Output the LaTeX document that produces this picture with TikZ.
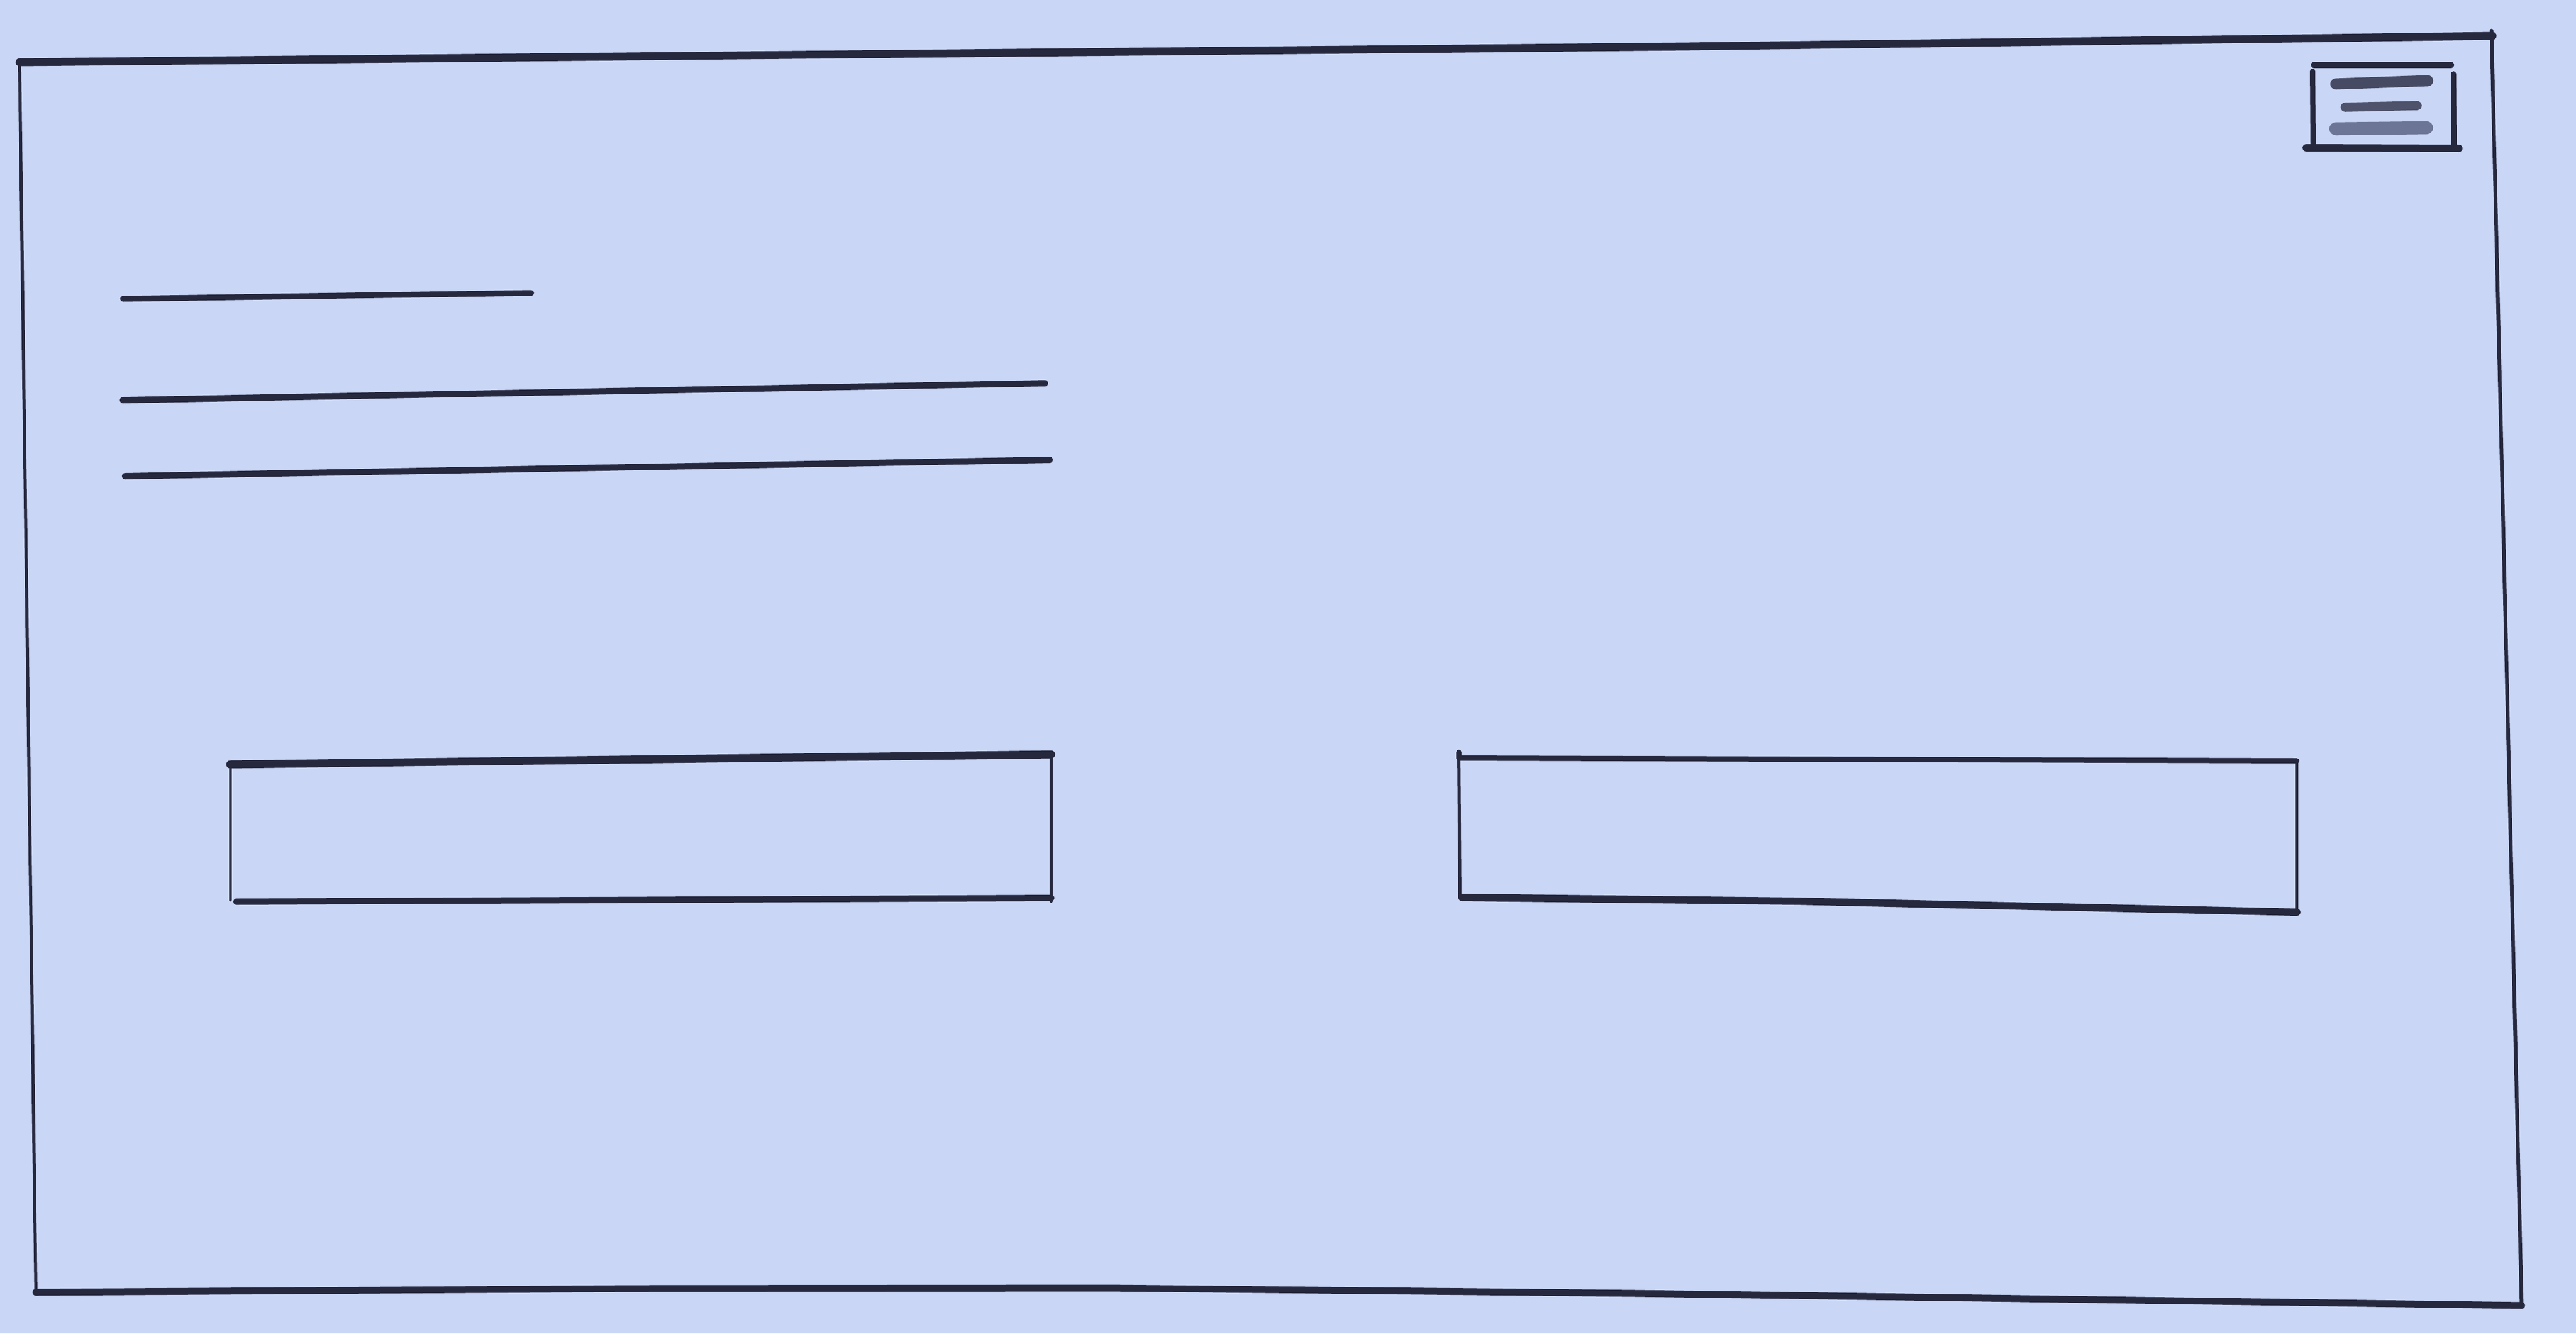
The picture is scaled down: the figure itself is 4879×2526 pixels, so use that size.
\documentclass[tikz,border=0pt]{standalone}
\begin{document}
\begin{tikzpicture}[x=0.1mm,y=-0.1mm,line cap=round,line join=round,
  pencil/.style={draw=pencilc,line width=#1*0.2845pt},
  pencil/.default=8]
\definecolor{paper}{RGB}{201,214,245}
\definecolor{pencilc}{RGB}{38,40,62}
\definecolor{pencilsoft}{RGB}{70,76,110}
\fill[paper] (0,0) rectangle (4879,2526);
\useasboundingbox (0,0) rectangle (4879,2526);
% outer frame
\coordinate (tl) at (37,118);
\coordinate (tr) at (4721,68);
\coordinate (br) at (4776,2473);
\coordinate (bl) at (68,2448);
\draw[pencil=15] (tl) -- (1500,104) -- (3200,88) -- (tr);
\draw[pencil=7] (4719,58) -- (br);
\draw[pencil=13] (bl) -- (1200,2441) -- (2100,2440) -- (3100,2450) -- (br);
\draw[pencil=6] (tl) -- (bl);
% stamp
\draw[pencil=12] (4383,123) -- (4642,123);
\draw[pencil=10] (4380,135) -- (4381,277);
\draw[pencil=10] (4647,140) -- (4648,278);
\draw[pencil=14] (4368,280) -- (4657,281);
\draw[draw=pencilc,line width=6pt,opacity=0.8] (4424,159) -- (4598,153);
\draw[draw=pencilc,line width=5pt,opacity=0.75] (4442,203) -- (4578,200);
\draw[draw=pencilsoft,line width=7pt,opacity=0.7] (4424,244) -- (4596,242);
% address lines
\draw[pencil=11] (233,566) -- (1006,555);
\draw[pencil=12] (233,758) -- (1979,726);
\draw[pencil=12] (237,902) -- (1988,871);
% left box
\draw[pencil=15] (436,1448) -- (1991,1429);
\draw[pencil=5] (436,1448) -- (436,1705);
\draw[pencil=6] (1991,1429) -- (1991,1707);
\draw[pencil=12] (448,1708) -- (1991,1701);
% right box
\draw[pencil=10] (2763,1425) -- (2763,1436) -- (4350,1441);
\draw[pencil=6] (2763,1425) -- (2765,1700);
\draw[pencil=6] (4350,1441) -- (4350,1728);
\draw[pencil=14] (2769,1700) -- (3400,1707) -- (4350,1728);
\end{tikzpicture}
\end{document}
